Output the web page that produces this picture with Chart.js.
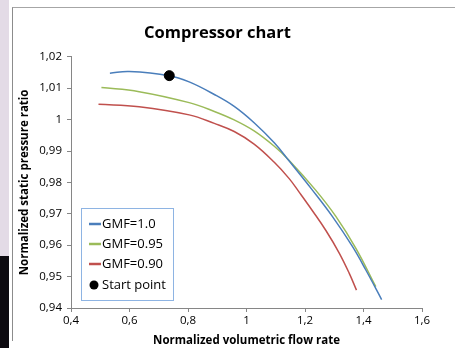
<!DOCTYPE html>
<html>
<head>
<meta charset="utf-8">
<script src="https://cdn.jsdelivr.net/npm/chart.js@4.4.1/dist/chart.umd.min.js"></script>
<style>
  html, body { margin: 0; padding: 0; background: #fff; }
  body { width: 455px; height: 348px; position: relative; overflow: hidden; }
  #strip { position: absolute; left: 0; top: 0; width: 9px; height: 256px; background: #e3dbe6; }
  #strip-dark { position: absolute; left: 0; top: 256px; width: 9px; height: 92px; background: #0c0a10; }
  #frame { position: absolute; left: 12px; top: 7px; width: 443px; height: 333px; border-top: 1px solid #a6a6a6; border-left: 1px solid #8c8c8c; }
  #wrap { position: absolute; left: 13px; top: 8px; width: 442px; height: 340px; }
</style>
</head>
<body>
<div id="strip"></div>
<div id="strip-dark"></div>
<div id="frame"></div>
<div id="wrap"><canvas id="compressor-chart"></canvas></div>
<script>
(function () {
  'use strict';

  // GMF = 1.0
  var flowA = [0.533, 0.599, 0.736, 0.804, 0.890, 0.958, 1.026, 1.095, 1.146, 1.224, 1.294, 1.362, 1.408, 1.462];
  var ratioA = [1.0148, 1.0153, 1.0140, 1.0120, 1.0080, 1.0042, 0.9990, 0.9926, 0.9868, 0.9777, 0.9691, 0.9596, 0.9521, 0.9427];
  // GMF = 0.95
  var flowB = [0.504, 0.633, 0.804, 0.890, 0.958, 1.026, 1.095, 1.146, 1.235, 1.306, 1.374, 1.442];
  var ratioB = [1.0102, 1.0089, 1.0054, 1.0026, 0.9999, 0.9964, 0.9915, 0.9870, 0.9777, 0.9691, 0.9590, 0.9468];
  // GMF = 0.90
  var flowC = [0.494, 0.633, 0.804, 0.890, 0.958, 1.026, 1.095, 1.146, 1.180, 1.226, 1.272, 1.317, 1.351, 1.376];
  var ratioC = [1.0049, 1.0041, 1.0015, 0.9988, 0.9962, 0.9922, 0.9864, 0.9812, 0.9769, 0.9709, 0.9646, 0.9575, 0.9511, 0.9457];
  // start point
  var startFlow = [0.736];
  var startRatio = [1.0140];

  var seriesLabels = ['GMF=1.0', 'GMF=0.95', 'GMF=0.90', 'Start point'];
  var seriesColors = ['#4a7ebb', '#9bbb59', '#c0504d', '#000000'];

  function toPoints(xs, ys) {
    return xs.map(function (x, i) { return { x: x, y: ys[i] }; });
  }

  function comma(v, digits) {
    return String(Number(Number(v).toFixed(digits))).replace('.', ',');
  }

  var lineDataset = function (i, xs, ys) {
    return {
      label: seriesLabels[i],
      data: toPoints(xs, ys),
      showLine: true,
      borderColor: seriesColors[i],
      backgroundColor: seriesColors[i],
      borderWidth: 1.5,
      pointRadius: 0,
      tension: 0.4
    };
  };

  // legend sits inside the plot, bottom left, like the original
  var legendBox = {
    id: 'legendBox',
    afterDraw: function (chart) {
      var ctx = chart.ctx;
      var bx = 68, by = 200, bw = 92, bh = 92;
      ctx.save();
      ctx.fillStyle = '#ffffff';
      ctx.fillRect(bx, by, bw, bh);
      ctx.strokeStyle = '#8eb4e3';
      ctx.lineWidth = 1;
      ctx.strokeRect(bx + 0.5, by + 0.5, bw, bh);
      var rows = [216, 236, 256, 277];
      ctx.font = '13px "Open Sans"';
      ctx.textBaseline = 'middle';
      for (var i = 0; i < 4; i++) {
        if (i < 3) {
          ctx.strokeStyle = seriesColors[i];
          ctx.lineWidth = 2.5;
          ctx.beginPath();
          ctx.moveTo(76, rows[i]);
          ctx.lineTo(88, rows[i]);
          ctx.stroke();
        } else {
          ctx.fillStyle = '#000';
          ctx.beginPath();
          ctx.arc(81, rows[i], 4.5, 0, Math.PI * 2);
          ctx.fill();
        }
        ctx.fillStyle = '#000';
        ctx.fillText(seriesLabels[i], 89, rows[i] + 0.5);
      }
      ctx.restore();
    }
  };

  var axisGrey = '#868686';
  var tickFont = { family: '"Open Sans"', size: 11.5 };
  var titleFont = { family: '"Open Sans"', size: 11.5, weight: 'bold' };

  var canvas = document.getElementById('compressor-chart');
  canvas.width = 442;
  canvas.height = 340;
  new Chart(canvas.getContext('2d'), {
    type: 'scatter',
    data: {
      datasets: [
        {
          label: seriesLabels[3],
          data: toPoints(startFlow, startRatio),
          backgroundColor: '#000',
          borderColor: '#000',
          pointRadius: 5,
          showLine: false
        },
        lineDataset(0, flowA, ratioA),
        lineDataset(1, flowB, ratioB),
        lineDataset(2, flowC, ratioC)
      ]
    },
    options: {
      responsive: false,
      animation: false,
      layout: { padding: { left: 0, right: 33, top: 0, bottom: 0 } },
      plugins: {
        legend: { display: false },
        tooltip: { enabled: false },
        title: {
          display: true,
          text: 'Compressor chart',
          color: '#000',
          font: { family: '"Open Sans"', size: 16.5, weight: 'bold' },
          padding: { top: 15, bottom: 14 }
        }
      },
      scales: {
        x: {
          type: 'linear',
          min: 0.4,
          max: 1.6,
          ticks: {
            stepSize: 0.2,
            color: '#000',
            font: tickFont,
            padding: 2,
            maxRotation: 0,
            callback: function (v) { return comma(v, 1); }
          },
          grid: { drawOnChartArea: false, drawTicks: true, tickLength: 4, color: axisGrey },
          border: { color: axisGrey },
          title: { display: true, text: 'Normalized volumetric flow rate', color: '#000', font: titleFont, padding: { top: 0, bottom: 0 } },
          afterFit: function (scale) { scale.height = 40; }
        },
        y: {
          type: 'linear',
          min: 0.94,
          max: 1.02,
          ticks: {
            stepSize: 0.01,
            color: '#000',
            font: tickFont,
            padding: 5,
            callback: function (v) { return comma(v, 2); }
          },
          grid: { drawOnChartArea: false, drawTicks: true, tickLength: 4, color: axisGrey },
          border: { color: axisGrey },
          title: { display: true, text: 'Normalized static pressure ratio', color: '#000', font: titleFont, padding: { top: 5, bottom: 0 } },
          afterFit: function (scale) { scale.width = 58; }
        }
      }
    },
    plugins: [legendBox]
  });
})();
</script>
</body>
</html>
